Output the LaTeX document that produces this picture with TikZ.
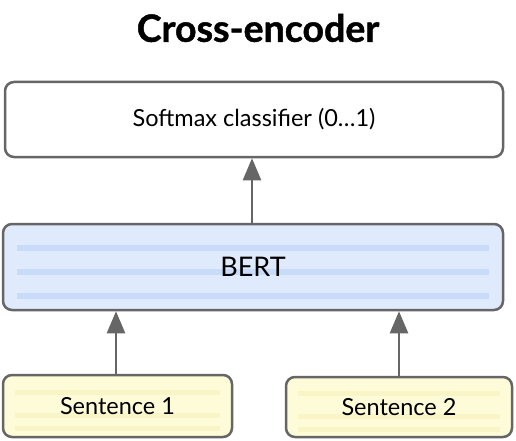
\documentclass[tikz,border=0pt]{standalone}
\usepackage{fontspec}
\setmainfont{Lato}
\newfontfamily\titlefont{Lato}[BoldFeatures={FakeBold=1.2}]
\usetikzlibrary{arrows.meta,positioning}
\definecolor{edgegray}{HTML}{666666}
\definecolor{bertfill}{HTML}{DFEAFC}
\definecolor{bertstripe}{HTML}{C8DBF8}
\definecolor{sentfill}{HTML}{FDFBD8}
\definecolor{sentstripe}{HTML}{F9F5C6}
\tikzset{
  box/.style={draw=edgegray, line width=2.5pt, rounded corners=9pt, align=center,
    font=\fontsize{23.5}{26}\selectfont},
  bertbox/.style={box, fill=bertfill, font=\fontsize{27}{30}\selectfont, path picture={
    \foreach \s in {-22,2,26}{
      \fill[bertstripe, sharp corners] ([xshift=14pt,yshift=-\s pt]path picture bounding box.west) rectangle
        ([xshift=-14pt,yshift=-\s pt-6pt]path picture bounding box.east);}}},
  sentbox/.style={box, fill=sentfill, path picture={
    \foreach \s in {-16,7,20}{
      \fill[sentstripe, sharp corners] ([xshift=12pt,yshift=-\s pt]path picture bounding box.west) rectangle
        ([xshift=-12pt,yshift=-\s pt-5pt]path picture bounding box.east);}}},
  flow/.style={draw=edgegray, line width=2.5pt, -{Triangle[length=22pt,width=18pt]}}
}
\begin{document}
\begin{tikzpicture}[x=1pt,y=-1pt]
\useasboundingbox (0,0) rectangle (516,441);
\node[font=\titlefont\fontsize{37.5}{40}\selectfont\bfseries] (title) at (258,28) {Cross-encoder};
\node[box, minimum width=498pt, minimum height=75pt] (soft) at (254,119.5) {Softmax classifier (0\dots1)};
\node[bertbox, minimum width=500pt, minimum height=86pt] (bert) at (253,267) {BERT};
\node[sentbox, minimum width=229pt, minimum height=62pt] (s1) at (117.5,406) {Sentence 1};
\node[sentbox, minimum width=226pt, minimum height=60pt] (s2) at (399,407) {Sentence 2};
% connectors
\draw[flow] (bert.north -| 252,0) -- (soft.south -| 252,0);
\draw[flow] (s1.north -| 116,0) -- (bert.south -| 116,0);
\draw[flow] (s2.north) -- (bert.south -| s2.north);
\end{tikzpicture}
\end{document}
